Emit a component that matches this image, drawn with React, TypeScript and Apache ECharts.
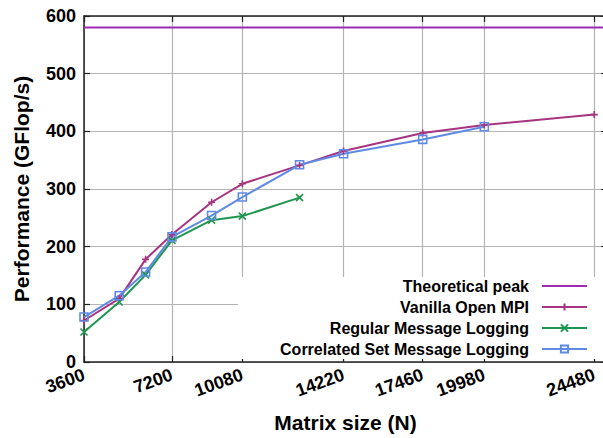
import React, { useEffect, useRef } from "react";
import * as echarts from "echarts";

const xTicks = [3600, 7200, 10080, 14220, 17460, 19980, 24480];
const peakSizes = [3600, 25000];
const peakValues = [580, 580];
const vanillaSizes = [3600, 5040, 6120, 7200, 8820, 10080, 12420, 14220, 17460, 19980, 24480];
const vanillaValues = [72, 110, 178, 221, 277, 309, 341, 366, 397, 411, 429];
const regularSizes = [3600, 5040, 6120, 7200, 8820, 10080, 12420];
const regularValues = [52, 104, 151, 211, 246, 253, 285];
const correlatedSizes = [3600, 5040, 6120, 7200, 8820, 10080, 12420, 14220, 17460, 19980];
const correlatedValues = [78, 115, 156, 217, 254, 286, 342, 361, 386, 408];

const names = [
  "Theoretical peak",
  "Vanilla Open MPI",
  "Regular Message Logging",
  "Correlated Set Message Logging",
];
const colors = ["#9d2ab5", "#a63481", "#1e9650", "#5f8ae3"];

const FONT = '"Liberation Sans", Arial, Helvetica, sans-serif';

function pairs(xs: number[], ys: number[]) {
  return xs.map((x, i) => [x, ys[i]]);
}

export default function App() {
  const ref = useRef<HTMLDivElement>(null);
  useEffect(() => {
    if (!ref.current) return;
    const chart = echarts.init(ref.current, null, { renderer: "svg" });
    const legendTops = [278, 299, 320, 341];
    const option: any = {
      animation: false,
      textStyle: { fontFamily: FONT },
      grid: { left: 84, right: 8, top: 16, bottom: 73 },
      graphic: [
        {
          type: "rect",
          left: 238,
          top: 277,
          z: 1,
          shape: { width: 400, height: 82 },
          style: { fill: "#ffffff" },
        },
      ],
      legend: names.map((n, i) => ({
        data: [n],
        right: 27,
        top: legendTops[i],
        padding: 0,
        align: "right",
        itemWidth: 45,
        itemHeight: 9,
        selectedMode: false,
        textStyle: {
          fontFamily: FONT,
          fontWeight: "bold",
          fontSize: 16,
          color: "#000",
          padding: [0, 8, 0, 0],
        },
      })),
      xAxis: [
        {
          type: "value",
          min: 3600,
          max: 25000,
          position: "bottom",
          name: "Matrix size (N)",
          nameLocation: "middle",
          nameGap: 50,
          nameTextStyle: { fontFamily: FONT, fontWeight: "bold", fontSize: 21, color: "#000" },
          axisLine: { show: true, onZero: false, lineStyle: { color: "#222", width: 1.5 } },
          axisTick: { show: true, inside: true, length: 6, customValues: xTicks, lineStyle: { color: "#222", width: 1.2 } },
          axisLabel: {
            customValues: xTicks,
            formatter: (v: number) => String(v),
            rotate: 20,
            margin: 12,
            fontFamily: FONT,
            fontWeight: "bold",
            fontSize: 18,
            color: "#000",
          },
          splitLine: { show: true, lineStyle: { color: "#b4b4b4", width: 1.2 } },
        },
        {
          type: "value",
          min: 3600,
          max: 25000,
          position: "top",
          axisLine: { show: true, onZero: false, lineStyle: { color: "#222", width: 1.5 } },
          axisTick: { show: true, inside: true, length: 6, customValues: xTicks, lineStyle: { color: "#222", width: 1.2 } },
          axisLabel: { show: false },
          splitLine: { show: false },
        },
      ],
      yAxis: [
        {
          type: "value",
          min: 0,
          max: 600,
          interval: 100,
          position: "left",
          name: "Performance (GFlop/s)",
          nameLocation: "middle",
          nameGap: 52,
          nameTextStyle: { fontFamily: FONT, fontWeight: "bold", fontSize: 21, color: "#000" },
          axisLine: { show: true, onZero: false, lineStyle: { color: "#222", width: 1.5 } },
          axisTick: { show: true, inside: true, length: 6, lineStyle: { color: "#222", width: 1.2 } },
          axisLabel: { margin: 8, fontFamily: FONT, fontWeight: "bold", fontSize: 18, color: "#000" },
          splitLine: { show: true, lineStyle: { color: "#b4b4b4", width: 1.2 } },
        },
        {
          type: "value",
          min: 0,
          max: 600,
          interval: 100,
          position: "right",
          axisLine: { show: true, onZero: false, lineStyle: { color: "#222", width: 1.5 } },
          axisTick: { show: true, inside: true, length: 6, lineStyle: { color: "#222", width: 1.2 } },
          axisLabel: { show: false },
          splitLine: { show: false },
        },
      ],
      series: [
        {
          name: names[0],
          type: "line",
          data: pairs(peakSizes, peakValues),
          symbol: "none",
          color: colors[0],
          lineStyle: { color: colors[0], width: 2 },
          itemStyle: { color: "rgba(0,0,0,0)", borderColor: "rgba(0,0,0,0)" },
          z: 3,
        },
        {
          name: names[1],
          type: "line",
          data: pairs(vanillaSizes, vanillaValues),
          symbol: "path://M0,5L10,5M5,0L5,10",
          symbolSize: 7,
          color: colors[1],
          lineStyle: { color: colors[1], width: 2 },
          itemStyle: { color: colors[1], borderColor: colors[1], borderWidth: 1.6 },
          z: 3,
        },
        {
          name: names[2],
          type: "line",
          data: pairs(regularSizes, regularValues),
          symbol: "path://M0,0L10,10M0,10L10,0",
          symbolSize: 7,
          color: colors[2],
          lineStyle: { color: colors[2], width: 2 },
          itemStyle: { color: colors[2], borderColor: colors[2], borderWidth: 1.6 },
          z: 3,
        },
        {
          name: names[3],
          type: "line",
          data: pairs(correlatedSizes, correlatedValues),
          symbol: "path://M0,0L10,0L10,10L0,10Z",
          symbolSize: 8,
          color: colors[3],
          lineStyle: { color: colors[3], width: 2 },
          itemStyle: { color: "rgba(0,0,0,0)", borderColor: colors[3], borderWidth: 1.6 },
          z: 3,
        },
      ],
    };
    chart.setOption(option);
    return () => chart.dispose();
  }, []);
  return (
    <div style={{ position: "fixed", left: 0, top: 0, width: 603, height: 438, overflow: "hidden", background: "#fff" }}>
      <div ref={ref} style={{ width: 615, height: 438 }} />
    </div>
  );
}
